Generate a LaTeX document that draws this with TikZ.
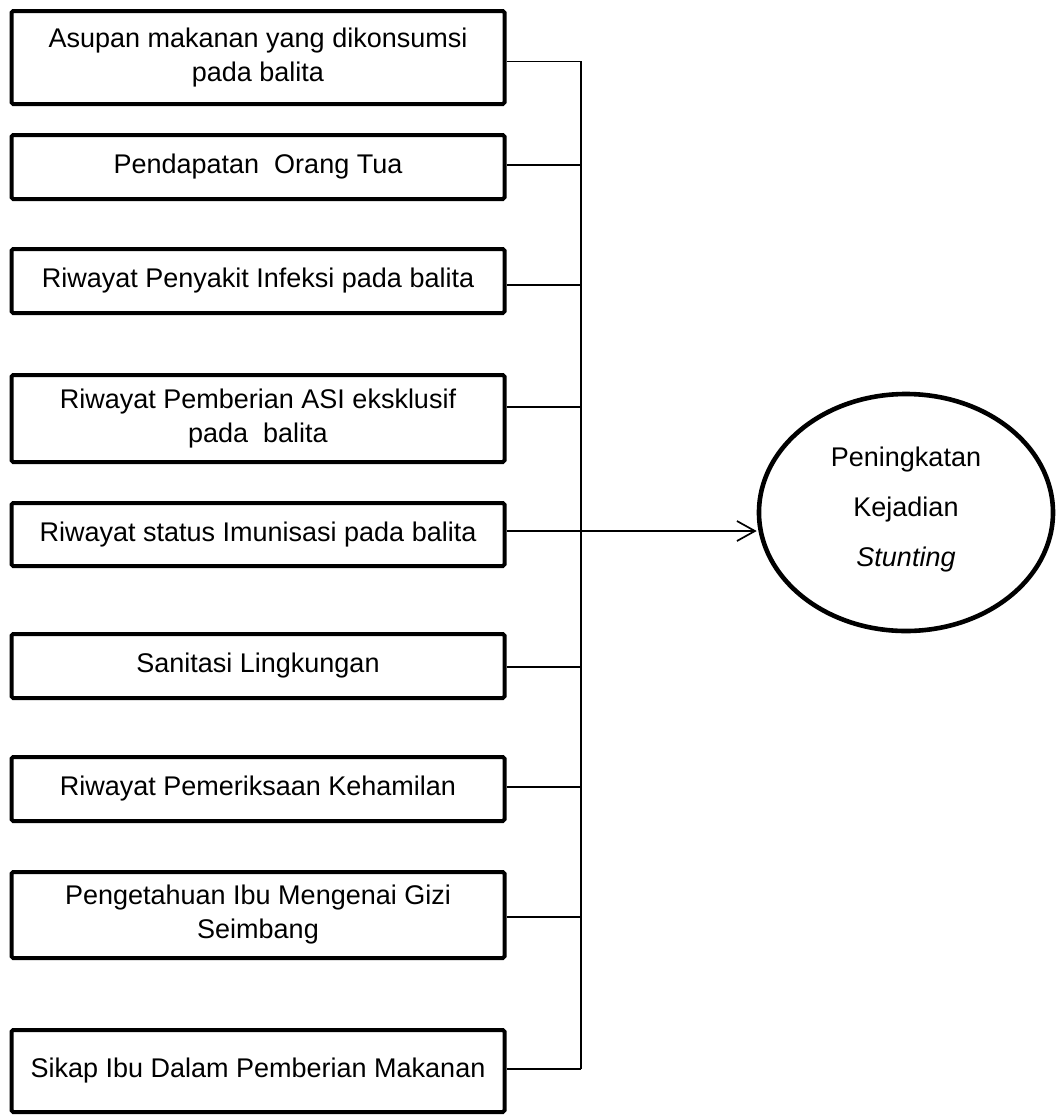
\documentclass[tikz,border=0pt]{standalone}
\usepackage{fontspec}
\setmainfont{Liberation Sans}
\usetikzlibrary{shapes.geometric,arrows.meta}
\tikzset{
  factor/.style={draw, line width=2pt, rounded corners=0.8pt, minimum width=246.5pt,
    inner sep=0pt, align=center, font=\fontsize{13.5}{17}\selectfont},
  outcome/.style={draw, ellipse, line width=2.3pt, minimum width=147pt, minimum height=118.5pt,
    inner sep=0pt, align=center, font=\fontsize{13.5}{25}\selectfont},
  link/.style={line width=0.85pt},
  spine/.style={line width=1pt},
  arrowlink/.style={line width=0.85pt, -{Straight Barb[length=9pt,width=10pt,line width=0.85pt]}}
}
\begin{document}
\begin{tikzpicture}[x=0.5pt,y=-0.5pt]
\useasboundingbox (0,0) rectangle (1056,1116);
\node[factor, minimum height=46.5pt] (b1) at (258,57.5) {Asupan makanan yang dikonsumsi\\pada balita};
\node[factor, minimum height=32pt] (b2) at (258,167) {Pendapatan~ Orang Tua};
\node[factor, minimum height=32pt] (b3) at (258,281) {Riwayat Penyakit Infeksi pada balita};
\node[factor, minimum height=43.5pt] (b4) at (258,418.5) {Riwayat Pemberian ASI eksklusif\\pada~ balita};
\node[factor, minimum height=31.5pt] (b5) at (258,534.5) {Riwayat status Imunisasi pada balita};
\node[factor, minimum height=32pt] (b6) at (258,666) {Sanitasi Lingkungan};
\node[factor, minimum height=32pt] (b7) at (258,789) {Riwayat Pemeriksaan Kehamilan};
\node[factor, minimum height=43pt] (b8) at (258,915) {Pengetahuan Ibu Mengenai Gizi\\Seimbang};
\node[factor, minimum height=41pt] (b9) at (258,1071) {Sikap Ibu Dalam Pemberian Makanan\\[-14pt]\mbox{}};
\node[outcome] (out) at (906,512.5) {Peningkatan\\Kejadian\\\textit{Stunting}\\[-19pt]\mbox{}};
\coordinate (spT) at (581,61);
\coordinate (spB) at (581,1069);
\draw[spine] (spT) -- (spB);
\draw[link] ([yshift=-2pt]b1.east) -- ([yshift=-2pt]b1.east -| spT);
\draw[link] ([yshift=1pt]b2.east) -- ([yshift=1pt]b2.east -| spT);
\draw[link] ([yshift=-2pt]b3.east) -- ([yshift=-2pt]b3.east -| spT);
\draw[link] ([yshift=5.75pt]b4.east) -- ([yshift=5.75pt]b4.east -| spT);
\draw[link] ([yshift=-0.5pt]b6.east) -- ([yshift=-0.5pt]b6.east -| spT);
\draw[link] ([yshift=1pt]b7.east) -- ([yshift=1pt]b7.east -| spT);
\draw[link] ([yshift=-1pt]b8.east) -- ([yshift=-1pt]b8.east -| spT);
\draw[link] ([yshift=1pt]b9.east) -- ([yshift=1pt]b9.east -| spB);
\draw[arrowlink] ([yshift=1.75pt]b5.east) -- ([yshift=1.75pt]b5.east -| out.west);
\end{tikzpicture}
\end{document}
